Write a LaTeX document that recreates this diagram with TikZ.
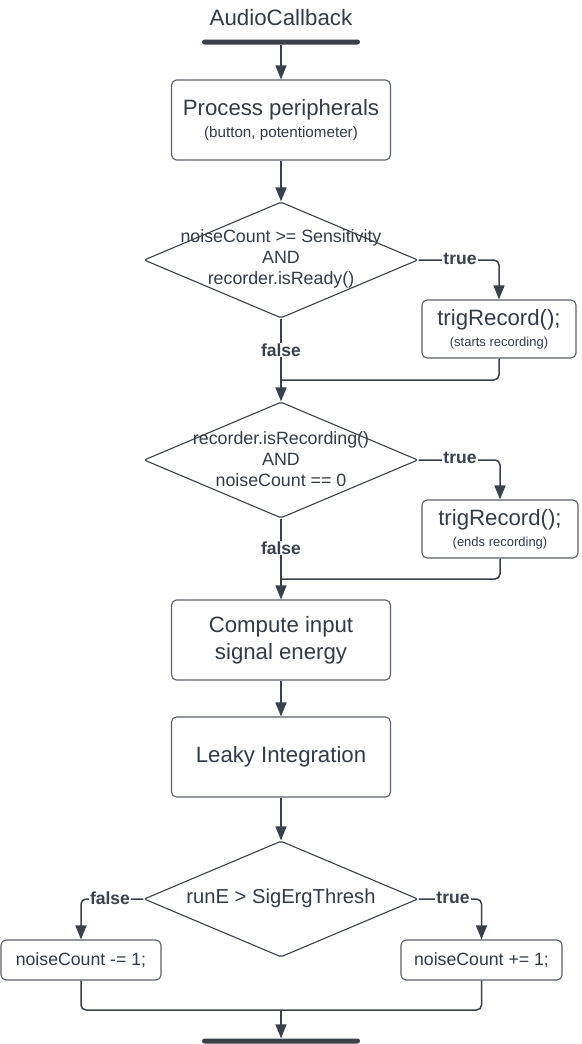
\documentclass[tikz,border=0pt]{standalone}
\usepackage{fontspec}
\setmainfont{Liberation Sans}
\usetikzlibrary{shapes.geometric,arrows.meta}
\definecolor{ink}{HTML}{3A414A}
\definecolor{boxline}{HTML}{5A6068}
\definecolor{txt}{HTML}{333B45}
\begin{document}
\begin{tikzpicture}[x=1pt,y=-1pt,
  proc/.style={draw=boxline,line width=1.1pt,rounded corners=5pt,align=center,text=txt,inner sep=0pt},
  dia/.style={draw=ink,line width=1.1pt,diamond,rounded corners=2pt,minimum width=274pt,minimum height=116pt,inner sep=0pt},
  dtext/.style={align=center,text=txt,font=\fontsize{17.8}{21}\selectfont,inner sep=0pt},
  conn/.style={draw=ink,line width=1.5pt,-{Triangle[length=14pt,width=11pt]}},
  link/.style={draw=ink,line width=1.5pt},
  lbl/.style={font=\bfseries\fontsize{17.5}{21}\selectfont,text=ink,fill=white,inner sep=1pt},
  bar/.style={fill=ink,rounded corners=2.5pt,minimum width=158pt,minimum height=5pt,inner sep=0pt}]
\useasboundingbox (0,0) rectangle (581,1044);
\node[font=\fontsize{22.3}{26}\selectfont,text=txt] (title) at (281,18) {AudioCallback};
\node[bar] (topbar) at (281,42) {};
\node[proc,minimum width=219pt,minimum height=80pt,font=\fontsize{22.2}{26}\selectfont] (pp) at (281,120) {Process peripherals\\[-3.4pt]{\fontsize{15.2}{18}\selectfont (button, potentiometer)}};
\node[dia] (d1) at (281,260) {};
\node[dtext] (d1t) at (281,259) {noiseCount >= Sensitivity\\AND\\recorder.isReady()};
\node[proc,minimum width=154pt,minimum height=58pt,font=\fontsize{22.2}{26}\selectfont] (tr1) at (499,329) {trigRecord();\\[-5pt]{\fontsize{13}{16}\selectfont (starts recording)}};
\coordinate (m1) at (281,380);
\node[dia] (d2) at (281,460) {};
\node[dtext] (d2t) at (281,459) {recorder.isRecording()\\AND\\noiseCount == 0};
\node[proc,minimum width=156pt,minimum height=58pt,font=\fontsize{22.2}{26}\selectfont] (tr2) at (500,529) {trigRecord();\\[-5pt]{\fontsize{13}{16}\selectfont (ends recording)}};
\coordinate (m2) at (281,579);
\node[proc,minimum width=219pt,minimum height=80pt,font=\fontsize{22.2}{27}\selectfont] (ce) at (281,640) {Compute input\\signal energy};
\node[proc,minimum width=219pt,minimum height=80pt,font=\fontsize{22.2}{27}\selectfont] (li) at (281,757) {Leaky Integration};
\node[dia] (d3) at (281,899) {};
\node[font=\fontsize{20.2}{23}\selectfont,text=txt,inner sep=0pt] (d3t) at (281,898) {runE > SigErgThresh};
\node[proc,minimum width=160pt,minimum height=40pt,font=\fontsize{17.7}{21}\selectfont] (nm) at (81,960) {noiseCount -= 1;};
\node[proc,minimum width=161pt,minimum height=40pt,font=\fontsize{17.7}{21}\selectfont] (np) at (481.5,960) {noiseCount += 1;};
\coordinate (m3) at (281,1010);
\node[bar] (botbar) at (281,1041) {};
% connectors
\draw[conn] (topbar.south) -- (pp.north);
\draw[conn] (pp.south) -- (d1.north);
\draw[conn,rounded corners=5pt] (d1.east) -| (tr1.north);
\node[lbl] (t1) at (460,259) {true};
\draw[conn] (d1.south) -- (d2.north);
\node[lbl] (f1) at (281,350) {false};
\draw[link,rounded corners=5pt] (tr1.south) |- (m1);
\draw[conn,rounded corners=5pt] (d2.east) -| (tr2.north);
\node[lbl] (t2) at (460,458) {true};
\draw[conn] (d2.south) -- (ce.north);
\node[lbl] (f2) at (281,548) {false};
\draw[link,rounded corners=5pt] (tr2.south) |- (m2);
\draw[conn] (ce.south) -- (li.north);
\draw[conn] (li.south) -- (d3.north);
\draw[conn,rounded corners=5pt] (d3.west) -| (nm.north);
\node[lbl] (f3) at (110,898) {false};
\draw[conn,rounded corners=5pt] (d3.east) -| (np.north);
\node[lbl] (t3) at (453,898) {true};
\draw[link,rounded corners=5pt] (nm.south) |- (m3);
\draw[link,rounded corners=5pt] (np.south) |- (m3);
\draw[conn] (m3) -- (botbar.north);
\end{tikzpicture}
\end{document}
